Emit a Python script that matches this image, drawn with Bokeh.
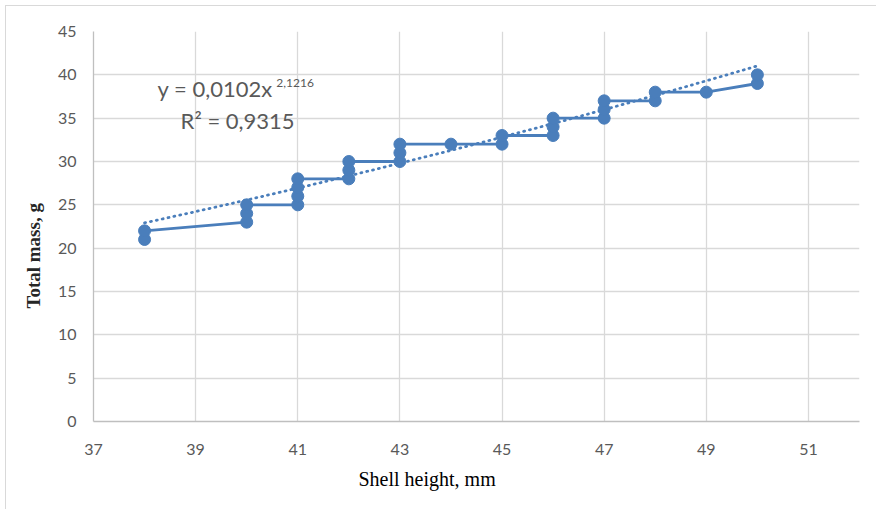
import numpy as np
from bokeh.plotting import figure
from bokeh.models import Range1d, FixedTicker, Label, ColumnDataSource, Title
from bokeh.embed import file_html
from bokeh.resources import INLINE

# ---- data ----
shell_height = [38, 38, 40, 40, 40, 41, 41, 41, 41, 42, 42, 42, 43, 43, 43,
                44, 45, 45, 46, 46, 46, 47, 47, 47, 48, 48, 49, 50, 50]
total_mass = [21, 22, 23, 24, 25, 25, 26, 27, 28, 28, 29, 30, 30, 31, 32,
              32, 32, 33, 33, 34, 35, 35, 36, 37, 37, 38, 38, 39, 40]
trend_coef = 0.0102
trend_exp = 2.1216
r_squared = 0.9315
x_ticks = [37, 39, 41, 43, 45, 47, 49, 51]
y_ticks = [0, 5, 10, 15, 20, 25, 30, 35, 40, 45]

BLUE = "#4a7ebb"
GRID = "#d9d9d9"
TXT = "#595959"

p = figure(width=871, height=504, output_backend="svg", toolbar_location=None,
           x_range=Range1d(37, 52), y_range=Range1d(0, 45),
           min_border_left=87, min_border_right=18, min_border_top=25,
           min_border_bottom=89)
p.outline_line_color = None
p.background_fill_color = "white"
p.border_fill_color = "white"

for ax in (p.xaxis, p.yaxis):
    ax.axis_line_color = "#bfbfbf"
    ax.axis_line_width = 1.3
    ax.major_tick_line_color = None
    ax.minor_tick_line_color = None
    ax.major_label_text_font = "Lato"
    ax.major_label_text_font_size = "16px"
    ax.major_label_text_color = TXT
p.xaxis.ticker = FixedTicker(ticks=x_ticks)
p.yaxis.ticker = FixedTicker(ticks=y_ticks)
p.xaxis.major_label_standoff = 16
p.yaxis.major_label_standoff = 11
p.xgrid.ticker = FixedTicker(ticks=x_ticks)
p.ygrid.ticker = FixedTicker(ticks=y_ticks)
p.xgrid.grid_line_color = GRID
p.ygrid.grid_line_color = GRID
p.xgrid.grid_line_width = 1.3
p.ygrid.grid_line_width = 1.3

# trendline (power fit shown on chart)
tx = np.linspace(min(shell_height), max(shell_height), 200)
ty = trend_coef * tx ** trend_exp
p.line(tx, ty, line_color=BLUE, line_width=2.8, line_dash="1 5", line_cap="round")

src = ColumnDataSource(dict(x=shell_height, y=total_mass))
p.line("x", "y", source=src, line_color=BLUE, line_width=2.8)
p.scatter("x", "y", source=src, size=12, fill_color=BLUE, line_color=BLUE)

# equation labels
eq = Label(x=38.255, y=38.42, text="y = 0,0102x", text_font="Lato", text_font_size="22px",
           text_color=TXT, text_baseline="middle", text_align="left")
eq_sup = Label(x=40.58, y=39.1, text="2,1216", text_font="Lato", text_font_size="12px",
               text_color=TXT, text_baseline="middle", text_align="left")
r2 = Label(x=38.706, y=34.73, text="R² = " + f"{r_squared}".replace(".", ","), text_font="Lato",
           text_font_size="22px", text_color=TXT, text_baseline="middle", text_align="left")
for lab in (eq, eq_sup, r2):
    p.add_layout(lab)

# axis titles
xt = Title(text="Shell height, mm", text_font="Liberation Serif", text_font_size="20px",
           text_font_style="normal", text_color="#000000", align="left", offset=265,
           standoff=16)
yt = Title(text="Total mass, g", text_font="Liberation Serif", text_font_size="19px",
           text_font_style="bold", text_color="#262626", align="left", offset=113,
           standoff=22)
p.add_layout(xt, "below")
p.add_layout(yt, "left")

p.styles = {"margin-left": "5px", "margin-top": "5px",
            "border-top": "1px solid #d9d9d9", "border-left": "1px solid #d9d9d9"}

open("out.html", "w").write(file_html(p, INLINE))
